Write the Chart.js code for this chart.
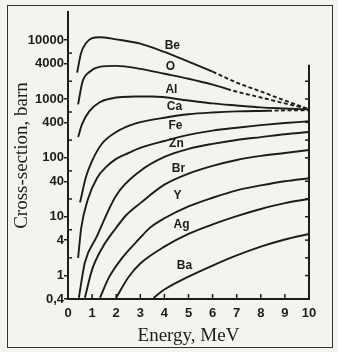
<!DOCTYPE html>
<html>
<head>
<meta charset="utf-8">
<script src="https://cdn.jsdelivr.net/npm/chart.js@4.4.1/dist/chart.umd.min.js"></script>
<style>
  html, body { margin: 0; padding: 0; background: #f4f4ef; }
  #frame { position: absolute; left: 7px; top: 5px; width: 324px; height: 341px; border: 1.5px solid #333; }
  #wrap { position: absolute; left: 0; top: 0; width: 338px; height: 352px; }
</style>
</head>
<body>
<div id="frame"></div>
<div id="wrap"><canvas id="xsChart" width="338" height="352"></canvas></div>
<script>
// curve names, as written on the plot
var names = ["Be", "O", "Al", "Ca", "Fe", "Zn", "Br", "Y", "Ag", "Ba"];

// energies (MeV) and cross-sections (barn)
var eBe = [0.38, 0.54, 0.75, 1.0, 1.3, 2, 3, 4, 5, 6, 7, 8, 9, 10];
var sBe = [2800, 6000, 8900, 10800, 11200, 10300, 8700, 6300, 4300, 2900, 1900, 1340, 940, 670];
var eO = [0.42, 0.6, 0.9, 1.3, 2, 3, 4, 5, 6, 6.6, 7, 8, 9, 10];
var sO = [810, 1950, 2900, 3500, 3650, 3250, 2680, 2200, 1750, 1480, 1330, 1060, 840, 670];
var eAl = [0.42, 0.58, 0.88, 1.3, 1.8, 2.8, 3.5, 5, 6, 7, 8, 9, 10];
var sAl = [225, 370, 615, 870, 1020, 1100, 1100, 940, 840, 775, 720, 690, 665];
var eCa = [0.5, 0.75, 1.0, 1.4, 2, 2.6, 3, 4, 5, 6, 7, 8.3, 9, 10];
var sCa = [17.5, 48, 89, 172, 274, 359, 403, 480, 550, 590, 616, 630, 640, 645];
var eFe = [0.42, 0.55, 0.83, 1.2, 1.6, 2, 2.5, 3, 4, 5, 6, 7, 8, 9, 10];
var sFe = [2.0, 6.5, 20, 45, 71, 96, 120, 147, 193, 245, 290, 325, 359, 390, 417];
var eZn = [0.45, 0.7, 1.17, 2, 3, 4, 5, 6, 7, 8, 9, 10];
var sZn = [0.42, 1.67, 4.4, 23, 60, 104, 142, 173, 201, 225, 252, 274];
var eBr = [0.7, 1.0, 1.42, 2, 2.42, 3, 4, 5, 6, 7, 8, 9, 10];
var sBr = [0.42, 1.26, 2.95, 6.5, 10.7, 17, 35, 54, 73, 92, 108, 121, 136];
var eY = [1.33, 1.7, 2.25, 3, 3.38, 4, 5, 6, 7, 8, 9, 10];
var sY = [0.42, 0.93, 2.0, 4.4, 6.4, 9.4, 15, 21, 28, 34, 40, 45];
var eAg = [2, 2.5, 3, 4, 5, 6, 7, 8, 9, 10];
var sAg = [0.42, 0.93, 1.6, 3.1, 5.1, 7.4, 10.2, 13.5, 17, 20];
var eBa = [3.55, 4, 5, 6, 7, 8, 9, 10];
var sBa = [0.42, 0.58, 0.96, 1.48, 2.2, 3.1, 4.1, 5.1];

// energy from which a curve is drawn dashed (extrapolated part)
var dashFrom = [6.0, 6.6, null, 8.3, null, null, null, null, null, null];

// where the element names sit
var labelE = [4.33, 4.25, 4.29, 4.42, 4.46, 4.5, 4.58, 4.54, 4.71, 4.83];
var labelS = [7900, 3520, 1450, 745, 345, 174, 66, 23, 7.2, 1.5];

// axis ticks
var xTicks = [0, 1, 2, 3, 4, 5, 6, 7, 8, 9, 10];
var yMajor = [0.4, 1, 4, 10, 40, 100, 400, 1000, 4000, 10000];
var yMajorText = ["0,4", "1", "4", "10", "40", "100", "400", "1000", "4000", "10000"];
var yMinor = [2, 6, 20, 60, 200, 600, 2000, 6000];
var rightTicks = [1, 2, 4, 10, 20, 40, 100, 200, 400, 1000, 2000];

var energies = [eBe, eO, eAl, eCa, eFe, eZn, eBr, eY, eAg, eBa];
var sigmas = [sBe, sO, sAl, sCa, sFe, sZn, sBr, sY, sAg, sBa];

var ink = "#1c1c1c";

var datasets = names.map(function (n, i) {
    var from = dashFrom[i];
    return {
        label: n,
        data: energies[i].map(function (e, k) { return {x: e, y: sigmas[i][k]}; }),
        borderColor: ink,
        borderWidth: 1.9,
        pointRadius: 0,
        fill: false,
        cubicInterpolationMode: 'monotone',
        segment: {
            borderDash: function (ctx) {
                return (from !== null && ctx.p0.parsed.x >= from - 1e-6) ? [4, 2.5] : undefined;
            }
        }
    };
});

var decor = {
    id: 'decor',
    afterDraw: function (chart) {
        var ctx = chart.ctx, x = chart.scales.x, y = chart.scales.y;
        ctx.save();
        ctx.strokeStyle = ink;
        ctx.lineWidth = 1.5;
        // x ticks point up into the plot
        xTicks.forEach(function (v) {
            var px = x.getPixelForValue(v);
            ctx.beginPath(); ctx.moveTo(px, y.bottom); ctx.lineTo(px, y.bottom - 5); ctx.stroke();
        });
        // short right-hand axis
        var rx = x.getPixelForValue(10);
        ctx.lineWidth = 2;
        ctx.beginPath(); ctx.moveTo(rx, y.getPixelForValue(3800)); ctx.lineTo(rx, y.bottom); ctx.stroke();
        ctx.lineWidth = 1.5;
        rightTicks.forEach(function (v) {
            var py = y.getPixelForValue(v);
            ctx.beginPath(); ctx.moveTo(rx, py); ctx.lineTo(rx - 4, py); ctx.stroke();
        });
        // minor ticks on the left axis, inside
        var lx = x.getPixelForValue(0);
        yMinor.forEach(function (v) {
            var py = y.getPixelForValue(v);
            ctx.beginPath(); ctx.moveTo(lx, py); ctx.lineTo(lx + 4, py); ctx.stroke();
        });
        // element names
        ctx.fillStyle = ink;
        ctx.font = 'bold 12px "Liberation Sans"';
        ctx.textAlign = 'center';
        ctx.textBaseline = 'middle';
        names.forEach(function (n, i) {
            ctx.fillText(n, x.getPixelForValue(labelE[i]), y.getPixelForValue(labelS[i]));
        });
        ctx.restore();
    }
};

var tickFont = {family: '"Liberation Sans"', size: 13, weight: 'bold'};
var titleFont = {family: '"Liberation Serif"', size: 19};

new Chart(document.getElementById("xsChart").getContext("2d"), {
    type: 'line',
    data: {datasets: datasets},
    options: {
        responsive: false,
        animation: false,
        events: [],
        layout: {padding: {left: 11, right: 29, top: 12, bottom: 0}},
        plugins: {legend: {display: false}, tooltip: {enabled: false}},
        scales: {
            x: {
                type: 'linear',
                min: 0,
                max: 10,
                afterFit: function (s) { s.height = 53; },
                afterBuildTicks: function (s) { s.ticks = xTicks.map(function (v) { return {value: v}; }); },
                ticks: {color: ink, font: tickFont, padding: 7, autoSkip: false, maxRotation: 0},
                grid: {drawOnChartArea: false, drawTicks: false},
                border: {display: true, color: ink, width: 2},
                title: {display: true, text: 'Energy, MeV', color: ink, font: titleFont, padding: {top: 0, bottom: 5}}
            },
            y: {
                type: 'logarithmic',
                min: 0.4,
                max: 30000,
                afterFit: function (s) { s.width = 57; },
                afterBuildTicks: function (s) { s.ticks = yMajor.map(function (v) { return {value: v}; }); },
                ticks: {
                    color: ink, font: tickFont, padding: 0, autoSkip: false,
                    callback: function (v) { var i = yMajor.indexOf(v); return i >= 0 ? yMajorText[i] : ''; }
                },
                grid: {drawOnChartArea: false, drawTicks: true, tickLength: 4, color: ink, lineWidth: 1.5},
                border: {display: true, color: ink, width: 2},
                title: {display: true, text: 'Cross-section, barn', color: ink, font: titleFont, padding: 0}
            }
        }
    },
    plugins: [decor]
});
</script>
</body>
</html>
